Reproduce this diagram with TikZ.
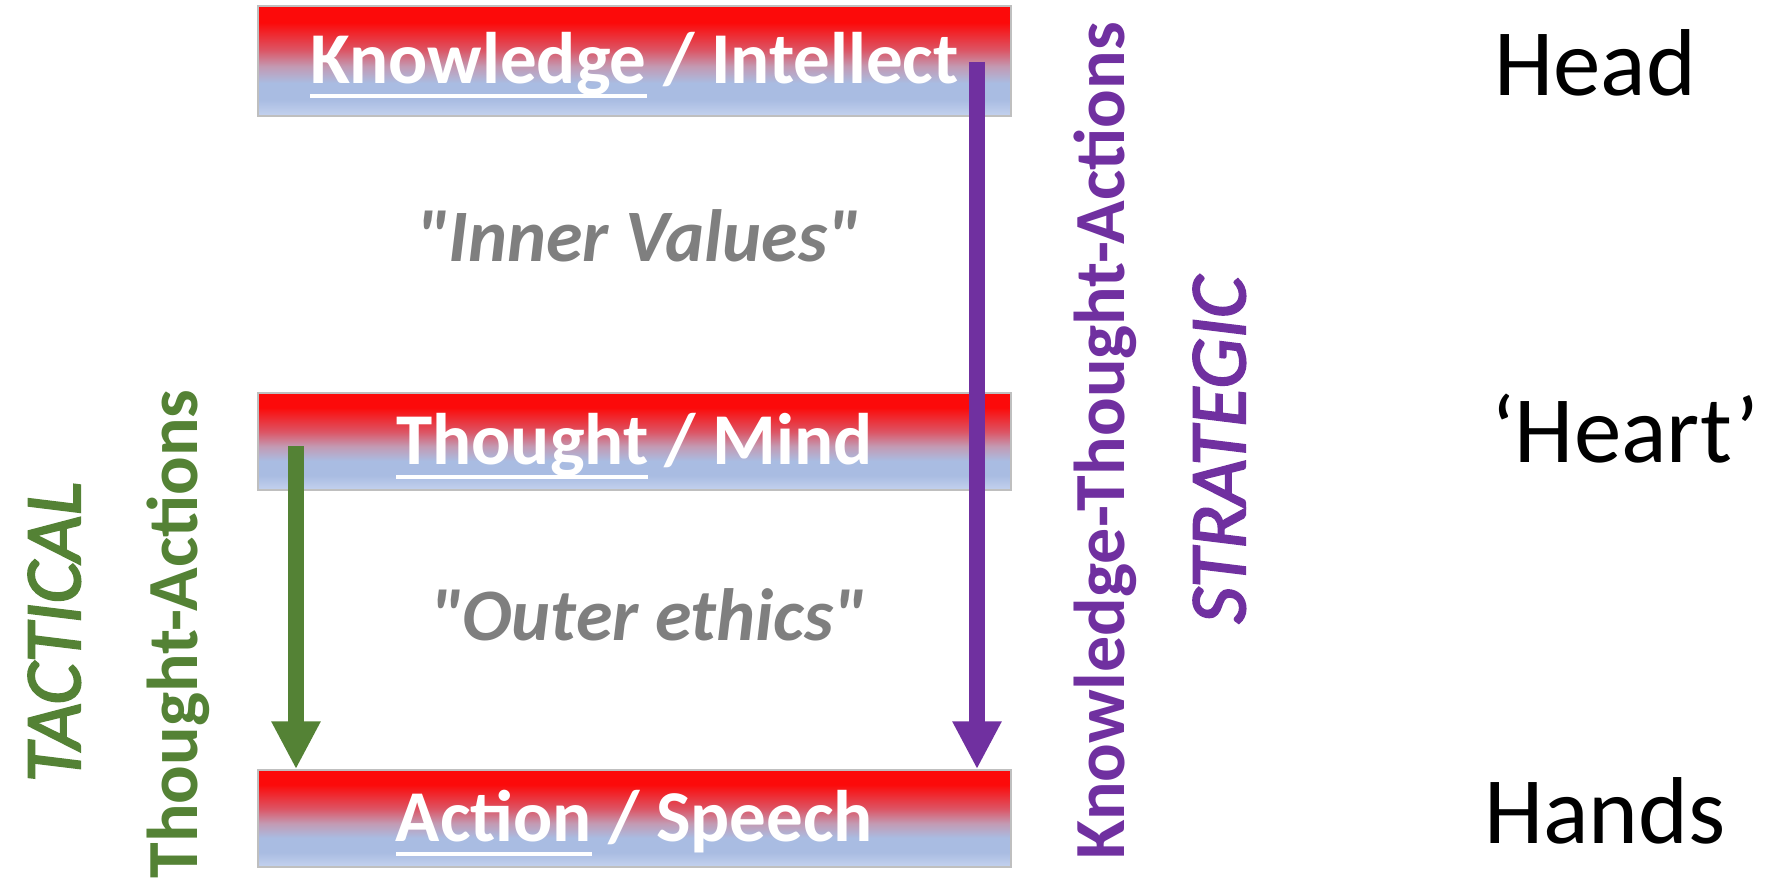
\documentclass[tikz,border=0pt]{standalone}
\usepackage{fontspec}
\setmainfont{Carlito}
\newfontfamily\outlinefont[FakeBold=2.5]{Carlito}
\newfontfamily\quotefont[Ligatures=TeXOff]{Carlito}
\usetikzlibrary{arrows.meta}

\definecolor{stratpurple}{HTML}{7030A0}
\definecolor{tactgreen}{HTML}{548235}
\definecolor{valgray}{HTML}{7F7F7F}
\definecolor{boxedge}{HTML}{BFBFBF}
\definecolor{shred}{HTML}{FC0A0A}
\definecolor{shrose}{HTML}{DC5565}
\definecolor{shmauve}{HTML}{C39AB3}
\definecolor{shblue}{HTML}{A9BCE2}
\definecolor{shpale}{HTML}{C4D2EE}
\pgfdeclareverticalshading{levelfill}{100bp}{color(0bp)=(shpale); color(25bp)=(shpale);
  color(32.5bp)=(shblue); color(40bp)=(shblue); color(47.5bp)=(shmauve); color(55bp)=(shrose);
  color(67.5bp)=(shred); color(100bp)=(shred)}

\newcommand{\lvlul}[1]{\setbox0\hbox{#1}\rlap{\raisebox{-0.195em}{\rule{\wd0}{0.055em}}}\box0\relax}

\begin{document}
\begin{tikzpicture}[x=1pt,y=-1pt,
  levelbox/.style={shading=levelfill,draw=boxedge,line width=1.5pt,minimum width=753pt,
    inner sep=0pt,text=white,text height=46pt,text depth=0pt,
    font=\bfseries\fontsize{73}{80}\selectfont},
  valtext/.style={anchor=base,inner sep=0pt,text=valgray,font=\quotefont\bfseries\itshape\fontsize{74}{80}\selectfont},
  parttext/.style={anchor=base west,inner sep=0pt,font=\fontsize{95}{100}\selectfont},
  sidetext/.style={anchor=base,inner sep=0pt,rotate=90,font=\bfseries\fontsize{72}{80}\selectfont},
  modetext/.style={anchor=base,inner sep=0pt,rotate=90,font=\outlinefont\itshape\fontsize{80}{90}\selectfont},
  downarrow/.style={line width=15.5pt,-{Triangle[length=48pt,width=46pt]}}]

\useasboundingbox[fill=white] (0,0) rectangle (1778,882);

% the three levels
\node[levelbox,minimum height=110pt] (know) at (634.5,61) {\lvlul{Knowledge} / Intellect};
\node[levelbox,minimum height=97pt] (thought) at (634.5,441.5) {\lvlul{Thought} / Mind};
\node[levelbox,minimum height=97pt] (act) at (634.5,818.5) {\lvlul{Action} / Speech};

\node[valtext] (inner) at (638,262) {"Inner Values"};
\node[valtext] (outer) at (648,640) {"Outer ethics"};

\node[parttext] (head) at (1494,96) {Head};
\node[parttext] (heart) at (1491,462) {‘Heart’};
\node[parttext] (hands) at (1484,843) {Hands};

% arrows
\coordinate (kstart) at (977,62);
\coordinate (tstart) at (296,446);
\draw[downarrow,stratpurple] (kstart) -- (kstart |- act.north);
\draw[downarrow,tactgreen] (tstart) -- (tstart |- act.north);

\node[sidetext,text=stratpurple] (ktalabel) at (1124,441) {Knowledge-Thought-Actions};
\node[modetext,text=stratpurple] (strat) at (1245,450) {STRATEGIC};
\node[sidetext,text=tactgreen] (talabel) at (197,634) {Thought-Actions};
\node[modetext,text=tactgreen] (tact) at (80,632) {TACTICAL};

\end{tikzpicture}
\end{document}
